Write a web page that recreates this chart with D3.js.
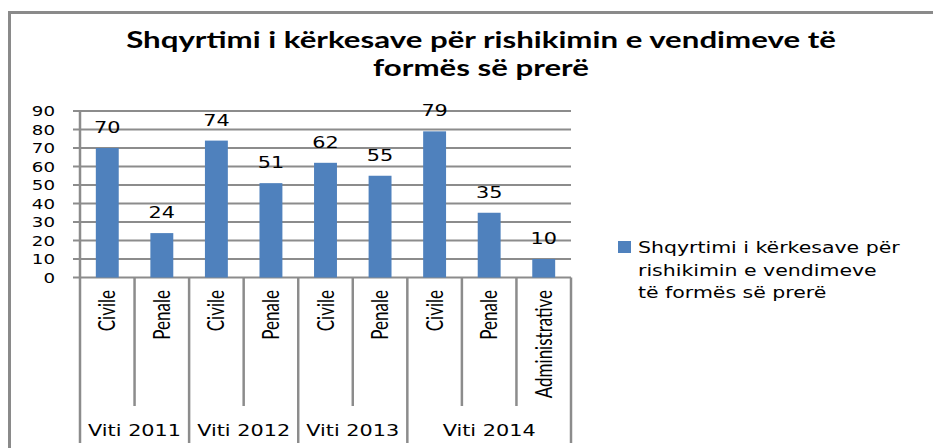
<!DOCTYPE html>
<html>
<head>
<meta charset="utf-8">
<script src="https://cdn.jsdelivr.net/npm/d3@7"></script>
<style>
    body { margin: 0; background: #fff; overflow: hidden; }
    svg { display: block; }
</style>
</head>
<body>
<svg id="chart" width="933" height="448"></svg>
<script>
// Chart data
const titleLines = ["Shqyrtimi i kërkesave për rishikimin e vendimeve të", "formës së prerë"];
const years = ["Viti 2011", "Viti 2012", "Viti 2013", "Viti 2014"];
const categories = ["Civile", "Penale", "Civile", "Penale", "Civile", "Penale", "Civile", "Penale", "Administrative"];
const categoryYear = [0, 0, 1, 1, 2, 2, 3, 3, 3];
const values = [70, 24, 74, 51, 62, 55, 79, 35, 10];
const yTicks = [0, 10, 20, 30, 40, 50, 60, 70, 80, 90];
const legendLines = ["Shqyrtimi i kërkesave për", "rishikimin e vendimeve", "të formës së prerë"];

// Styles
const barColor = "#4F81BD";
const gridColor = "#8c8c8c";
const verdana = "'DejaVu Sans', Verdana, sans-serif";
const calibri = "Lato, 'Open Sans', sans-serif";

const svg = d3.select("#chart");

// Plot area
const margin = { left: 80, right: 571, top: 111, bottom: 277.5 };

const x = d3.scaleBand()
    .domain(d3.range(categories.length))
    .range([margin.left, margin.right])
    .paddingInner(0.58)
    .paddingOuter(0.29);

const y = d3.scaleLinear()
    .domain([0, 90])
    .range([margin.bottom, margin.top]);

// Helper: text that is stretched horizontally like the source picture
function stretched(g, px, py, sx, rot) {
    return g.append("text")
        .attr("transform", "translate(" + px + "," + py + ") scale(" + sx + ",1)" + (rot ? " rotate(" + rot + ")" : ""));
}

// Outer frame (only top and left edges are visible)
svg.append("path")
    .attr("d", "M9.5,448V12.5H933")
    .attr("fill", "none")
    .attr("stroke", "#8a8a8a")
    .attr("stroke-width", 3);

// Title
titleLines.forEach(function (t, i) {
    stretched(svg, 481, 48 + i * 28, 1.42)
        .attr("text-anchor", "middle")
        .attr("font-family", calibri)
        .attr("font-weight", "bold")
        .attr("font-size", 22)
        .attr("fill", "#000")
        .text(t);
});

// Gridlines and y tick labels
const grid = svg.append("g");
yTicks.forEach(function (v) {
    grid.append("line")
        .attr("x1", margin.left - 7).attr("x2", margin.right)
        .attr("y1", y(v)).attr("y2", y(v))
        .attr("stroke", gridColor)
        .attr("stroke-width", 2);
    stretched(grid, 55, y(v) + 5, 1.3)
        .attr("text-anchor", "end")
        .attr("font-family", verdana)
        .attr("font-size", 14)
        .attr("fill", "#000")
        .text(v);
});

// Y axis line
svg.append("line")
    .attr("x1", margin.left).attr("x2", margin.left)
    .attr("y1", y(90)).attr("y2", 443)
    .attr("stroke", gridColor)
    .attr("stroke-width", 2.5);

// Category separators: short inside a year, long between years
const step = x.step();
d3.range(1, categories.length + 1).forEach(function (i) {
    const groupEnd = i === categories.length || categoryYear[i] !== categoryYear[i - 1];
    const bx = margin.left + i * step;
    svg.append("line")
        .attr("x1", bx).attr("x2", bx)
        .attr("y1", y(0)).attr("y2", groupEnd ? 443 : 406)
        .attr("stroke", gridColor)
        .attr("stroke-width", 2.5);
});

// Bars
svg.append("g").selectAll("rect")
    .data(values)
    .join("rect")
    .attr("x", function (d, i) { return x(i); })
    .attr("y", function (d) { return y(d); })
    .attr("width", x.bandwidth())
    .attr("height", function (d) { return y(0) - y(d); })
    .attr("fill", barColor);

// Value labels
const labels = svg.append("g");
values.forEach(function (v, i) {
    stretched(labels, x(i) + x.bandwidth() / 2, y(v) - 15, 1.3)
        .attr("text-anchor", "middle")
        .attr("font-family", verdana)
        .attr("font-size", 16)
        .attr("fill", "#000")
        .text(v);
});

// Category labels (rotated)
const catLabels = svg.append("g");
categories.forEach(function (c, i) {
    stretched(catLabels, x(i) + x.bandwidth() / 2 + 8, 290, 1.4, -90)
        .attr("text-anchor", "end")
        .attr("font-family", calibri)
        .attr("font-size", 17)
        .attr("fill", "#000")
        .text(c);
});

// Year labels
const yearLabels = svg.append("g");
years.forEach(function (yr, k) {
    const idx = d3.range(categories.length).filter(function (i) { return categoryYear[i] === k; });
    const cx = margin.left + (d3.min(idx) + (idx.length / 2)) * step;
    stretched(yearLabels, cx, 436, 1.3)
        .attr("text-anchor", "middle")
        .attr("font-family", verdana)
        .attr("font-size", 16)
        .attr("fill", "#000")
        .text(yr);
});

// Legend
const legend = svg.append("g");
legend.append("rect")
    .attr("x", 618).attr("y", 241)
    .attr("width", 13).attr("height", 12)
    .attr("fill", barColor);
legendLines.forEach(function (t, i) {
    stretched(legend, 638, 253 + i * 22.5, 1.28)
        .attr("font-family", verdana)
        .attr("font-size", 16)
        .attr("fill", "#000")
        .text(t);
});
</script>
</body>
</html>
